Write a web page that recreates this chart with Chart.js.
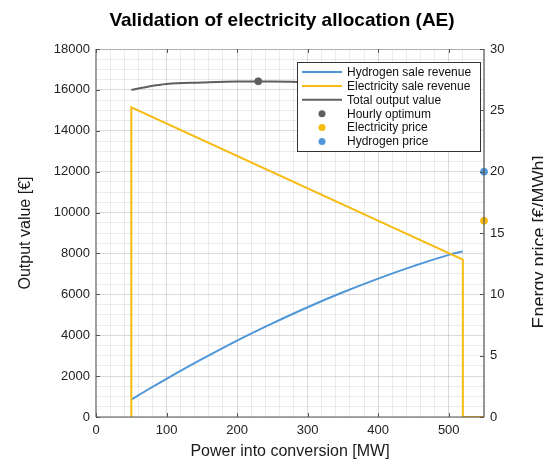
<!DOCTYPE html>
<html>
<head>
<meta charset="utf-8">
<script src="https://cdn.jsdelivr.net/npm/chart.js@4"></script>
<style>
  html, body { margin: 0; padding: 0; background: #fff; }
  #wrap { width: 543px; height: 459px; position: relative; }
</style>
</head>
<body>
<div id="wrap"><canvas id="chart" width="543" height="459"></canvas></div>
<script>
// x positions (MW)
var powerX = [50, 75, 100, 150, 200, 250, 300, 350, 400, 450, 500, 520];
// output values in EUR
var hydrogenRevenue = [850, 1370, 1870, 2830, 3740, 4580, 5370, 6100, 6770, 7380, 7930, 8100];
var totalOutput = [16000, 16170, 16290, 16360, 16410, 16415, 16380, 16330, 16250, 16150, 16000, 15750];
// electricity revenue: jumps up at 50 MW, linear down to 520 MW, then drops to zero
var elecX = [50, 50, 520, 520, 550];
var elecRevenue = [0, 15150, 7700, 0, 0];
// hourly optimum
var optimumX = [230];
var optimumY = [16420];
// prices on the right axis (EUR/MWh)
var priceX = [550];
var electricityPrice = [16];
var hydrogenPrice = [20];

var xTickLabels = [0, 100, 200, 300, 400, 500];
var yTickLabels = [0, 2000, 4000, 6000, 8000, 10000, 12000, 14000, 16000, 18000];
var y2TickLabels = [0, 5, 10, 15, 20, 25, 30];

var BLUE = '#4f97d8';
var YELLOW = '#f7bb12';
var GREY = '#5f5f5f';
var FONT = "'Liberation Sans', Arial, sans-serif";

function pts(xs, ys) {
    return xs.map(function (x, i) { return { x: x, y: ys[i] }; });
}

// title, axis titles, box and legend are drawn by hand to mimic the matlab look
var decorations = {
    id: 'decorations',
    afterDraw: function (chart) {
        var ctx = chart.ctx;
        var a = chart.chartArea;
        ctx.save();

        // box round the axes
        ctx.lineWidth = 1;
        ctx.strokeStyle = '#b0b0b0';
        ctx.beginPath(); ctx.moveTo(a.left, a.top + 0.5); ctx.lineTo(a.right, a.top + 0.5); ctx.stroke();
        ctx.lineWidth = 2;
        ctx.strokeStyle = '#a0a0a0';
        ctx.beginPath(); ctx.moveTo(a.left, a.top); ctx.lineTo(a.left, a.bottom); ctx.stroke();
        ctx.strokeStyle = '#555';
        ctx.lineWidth = 1.2;
        ctx.beginPath(); ctx.moveTo(a.left, a.bottom); ctx.lineTo(a.right, a.bottom); ctx.stroke();
        ctx.beginPath(); ctx.moveTo(a.right, a.top); ctx.lineTo(a.right, a.bottom); ctx.stroke();

        // inward tick marks
        var xs = chart.scales.x, ys = chart.scales.y, y2 = chart.scales.y2;
        ctx.lineWidth = 1;
        ctx.strokeStyle = '#555';
        xTickLabels.forEach(function (v) {
            var px = Math.round(xs.getPixelForValue(v)) + 0.5;
            ctx.beginPath(); ctx.moveTo(px, a.bottom); ctx.lineTo(px, a.bottom - 4); ctx.stroke();
            ctx.beginPath(); ctx.moveTo(px, a.top); ctx.lineTo(px, a.top + 4); ctx.stroke();
        });
        yTickLabels.forEach(function (v) {
            var py = Math.round(ys.getPixelForValue(v)) + 0.5;
            ctx.beginPath(); ctx.moveTo(a.left, py); ctx.lineTo(a.left + 4, py); ctx.stroke();
        });
        y2TickLabels.forEach(function (v) {
            var py = Math.round(y2.getPixelForValue(v)) + 0.5;
            ctx.beginPath(); ctx.moveTo(a.right, py); ctx.lineTo(a.right - 4, py); ctx.stroke();
        });

        // title
        ctx.fillStyle = '#000';
        ctx.font = 'bold 19px ' + FONT;
        ctx.textAlign = 'center';
        ctx.textBaseline = 'alphabetic';
        ctx.fillText('Validation of electricity allocation (AE)', 282, 26);

        // axis titles
        ctx.font = '16px ' + FONT;
        ctx.fillStyle = '#1a1a1a';
        ctx.fillText('Power into conversion [MW]', (a.left + a.right) / 2, 456);
        ctx.save();
        ctx.translate(30, (a.top + a.bottom) / 2);
        ctx.rotate(-Math.PI / 2);
        ctx.fillText('Output value [€]', 0, 0);
        ctx.restore();
        ctx.save();
        ctx.font = '18px ' + FONT;
        ctx.translate(545, 242);
        ctx.rotate(-Math.PI / 2);
        ctx.fillText('Energy price [€/MWh]', 0, 0);
        ctx.restore();

        // legend box in the upper right corner
        var bx = 297, by = 62, bw = 183, bh = 89;
        ctx.fillStyle = '#fff';
        ctx.fillRect(bx, by, bw, bh);
        ctx.strokeStyle = '#333';
        ctx.lineWidth = 1;
        ctx.strokeRect(bx + 0.5, by + 0.5, bw, bh);
        var rows = [
            { text: 'Hydrogen sale revenue', color: BLUE, line: true },
            { text: 'Electricity sale revenue', color: YELLOW, line: true },
            { text: 'Total output value', color: GREY, line: true },
            { text: 'Hourly optimum', color: GREY, line: false },
            { text: 'Electricity price', color: YELLOW, line: false },
            { text: 'Hydrogen price', color: BLUE, line: false }
        ];
        ctx.font = '12px ' + FONT;
        ctx.textAlign = 'left';
        ctx.textBaseline = 'middle';
        rows.forEach(function (r, i) {
            var cy = by + 10 + i * 13.9;
            if (r.line) {
                ctx.strokeStyle = r.color;
                ctx.lineWidth = 2;
                ctx.beginPath(); ctx.moveTo(302, cy); ctx.lineTo(342, cy); ctx.stroke();
            } else {
                ctx.fillStyle = r.color;
                ctx.beginPath(); ctx.arc(322, cy, 3.5, 0, Math.PI * 2); ctx.fill();
            }
            ctx.fillStyle = '#111';
            ctx.fillText(r.text, 347, cy + 0.5);
        });
        ctx.restore();
    }
};

function gridColor(ctx, step) {
    var v = ctx.tick ? ctx.tick.value : 0;
    return (v % step === 0) ? 'rgba(0,0,0,0.14)' : 'rgba(0,0,0,0.075)';
}

var chart = new Chart(document.getElementById('chart'), {
    type: 'scatter',
    data: {
        datasets: [
            {
                label: 'Hydrogen sale revenue',
                data: pts(powerX, hydrogenRevenue),
                showLine: true, borderColor: BLUE, borderWidth: 2, cubicInterpolationMode: 'monotone',
                pointRadius: 0, yAxisID: 'y', order: 3
            },
            {
                label: 'Electricity sale revenue',
                data: pts(elecX, elecRevenue),
                showLine: true, borderColor: YELLOW, borderWidth: 2,
                pointRadius: 0, yAxisID: 'y', order: 2
            },
            {
                label: 'Total output value',
                data: pts(powerX, totalOutput),
                showLine: true, borderColor: GREY, borderWidth: 2, cubicInterpolationMode: 'monotone',
                pointRadius: 0, yAxisID: 'y', order: 1
            },
            {
                label: 'Hourly optimum',
                data: pts(optimumX, optimumY),
                backgroundColor: GREY, borderColor: GREY,
                pointRadius: 3.5, yAxisID: 'y', order: 0
            },
            {
                label: 'Electricity price',
                data: pts(priceX, electricityPrice),
                backgroundColor: YELLOW, borderColor: YELLOW,
                pointRadius: 3.5, yAxisID: 'y2', clip: false, order: 0
            },
            {
                label: 'Hydrogen price',
                data: pts(priceX, hydrogenPrice),
                backgroundColor: BLUE, borderColor: BLUE,
                pointRadius: 3.5, yAxisID: 'y2', clip: false, order: 0
            }
        ]
    },
    options: {
        responsive: false,
        animation: false,
        layout: { padding: { top: 49, left: 0, right: 0, bottom: 0 } },
        plugins: {
            legend: { display: false },
            tooltip: { enabled: false }
        },
        scales: {
            x: {
                type: 'linear', min: 0, max: 550,
                afterFit: function (s) { s.height = 42; },
                border: { display: false },
                grid: { color: function (c) { return gridColor(c, 100); }, drawTicks: false },
                ticks: {
                    stepSize: 20, autoSkip: false, maxRotation: 0,
                    padding: 6, color: '#222',
                    font: { family: FONT, size: 13 },
                    callback: function (v) { return xTickLabels.indexOf(v) >= 0 ? String(v) : ''; }
                }
            },
            y: {
                type: 'linear', position: 'left', min: 0, max: 18000,
                afterFit: function (s) { s.width = 96; },
                border: { display: false },
                grid: { color: function (c) { return gridColor(c, 2000); }, drawTicks: false },
                ticks: {
                    stepSize: 500, autoSkip: false,
                    padding: 6, color: '#222',
                    font: { family: FONT, size: 13 },
                    callback: function (v) { return yTickLabels.indexOf(v) >= 0 ? String(v) : ''; }
                }
            },
            y2: {
                type: 'linear', position: 'right', min: 0, max: 30,
                afterFit: function (s) { s.width = 59; },
                border: { display: false },
                grid: { drawOnChartArea: false, drawTicks: false },
                ticks: {
                    stepSize: 5, padding: 6, color: '#222',
                    font: { family: FONT, size: 13 }
                }
            }
        }
    },
    plugins: [decorations]
});
</script>
</body>
</html>
